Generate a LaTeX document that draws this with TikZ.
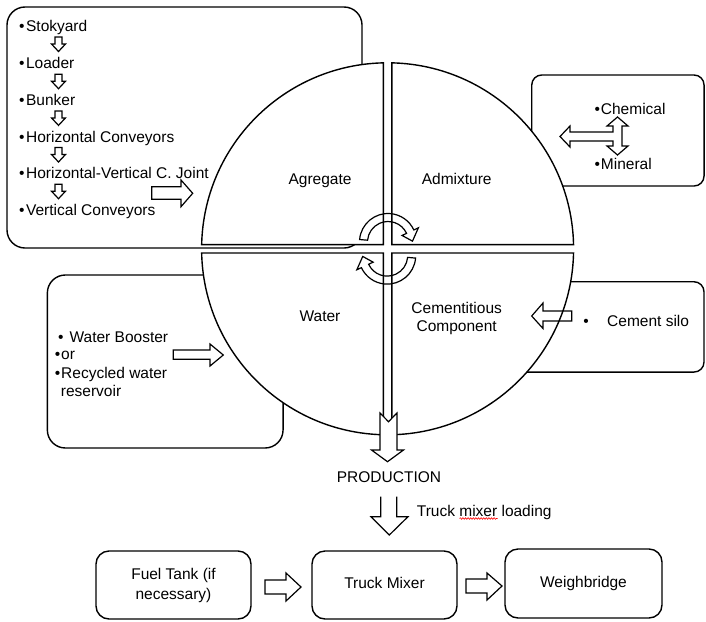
\documentclass[tikz,border=0pt]{standalone}
\usepackage{fontspec}
\setmainfont{Liberation Sans}
\usetikzlibrary{decorations.pathmorphing}
\begin{document}
\begin{tikzpicture}[x=1pt,y=-1pt,
  rbox/.style={draw, line width=1.4pt, fill=white, inner sep=0pt},
  quad/.style={draw, line width=1.4pt, fill=white},
  barrow/.style={draw, line width=1.2pt, line join=miter},
  wbarrow/.style={draw, line width=1.2pt, fill=white, line join=miter},
  lbl/.style={font=\fontsize{15.5}{18}\selectfont, inner sep=0pt, text height=11pt, text depth=0pt},
  sdown/.pic={\draw[line width=1.2pt, line join=miter] (-3.5,-7) -- (3.5,-7) -- (3.5,0) -- (7,0) -- (0,7.5) -- (-7,0) -- (-3.5,0) -- cycle;}
]
\fill[white] (0,0) rectangle (706,621);
\useasboundingbox (0,0) rectangle (706,621);

% background boxes
\node[rbox, rounded corners=18pt, minimum width=355pt, minimum height=241pt] (listbox) at (184.5,127.5) {};
\node[rbox, rounded corners=18pt, minimum width=235.7pt, minimum height=173pt] (waterbox) at (165.2,361.5) {};
\node[rbox, rounded corners=10pt, minimum width=172.3pt, minimum height=111pt] (admixbox) at (617.9,130.5) {};
\node[rbox, rounded corners=10pt, minimum width=204pt, minimum height=90.3pt] (silobox) at (602,326.9) {};

% quadrants
\path[quad] (383.4,244.6) -- (383.4,62.85) arc[start angle=268.706, end angle=181.294, radius=186] -- cycle;
\path[quad] (391.8,244.6) -- (391.8,62.85) arc[start angle=271.294, end angle=358.706, radius=186] -- cycle;
\path[quad] (391.8,253) -- (391.8,434.75) arc[start angle=88.706, end angle=1.294, radius=186] -- cycle;
\path[quad] (383.4,253) -- (383.4,434.75) arc[start angle=91.294, end angle=178.706, radius=186] -- cycle;

% quadrant labels
\node[lbl] (agg) at (320,179) {Agregate};
\node[lbl] (adm) at (456.7,179) {Admixture};
\node[lbl] (wat) at (320,316) {Water};
\node[lbl] (cem1) at (456.7,308) {Cementitious};
\node[lbl] (cem2) at (456.7,326) {Component};

% curved arrows in the centre
\draw[barrow] ([shift={(388,242)}]185:28.5) arc[start angle=185, end angle=335, radius=28.5]
  -- ([shift={(388,242)}]335:33.5) -- ([shift={(388,242)}]358:24.5) -- ([shift={(388,242)}]335:15.5)
  -- ([shift={(388,242)}]335:20.5) arc[start angle=335, end angle=185, radius=20.5] -- cycle;
\draw[barrow] ([shift={(387.2,255.6)}]5:28.5) arc[start angle=5, end angle=155, radius=28.5]
  -- ([shift={(387.2,255.6)}]155:33.5) -- ([shift={(387.2,255.6)}]178:24.5) -- ([shift={(387.2,255.6)}]155:15.5)
  -- ([shift={(387.2,255.6)}]155:20.5) arc[start angle=155, end angle=5, radius=20.5] -- cycle;

% list box content
\node[lbl, anchor=west] (i1) at (19,26) {•\hspace{1.5pt}Stokyard};
\node[lbl, anchor=west] (i2) at (19,63.3) {•\hspace{1.5pt}Loader};
\node[lbl, anchor=west] (i3) at (19,100) {•\hspace{1.5pt}Bunker};
\node[lbl, anchor=west] (i4) at (19,136.7) {•\hspace{1.5pt}Horizontal Conveyors};
\node[lbl, anchor=west] (i5) at (19,173.3) {•\hspace{1.5pt}Horizontal-Vertical C. Joint};
\node[lbl, anchor=west] (i6) at (19,210) {•\hspace{1.5pt}Vertical Conveyors};
\pic at (58.5,44) {sdown};
\pic at (58.5,81.2) {sdown};
\pic at (58.5,117.9) {sdown};
\pic at (58.5,154.5) {sdown};
\pic at (58.5,191.2) {sdown};
\draw[barrow] (151.7,186.7) -- (181,186.7) -- (181,180) -- (192.7,193.3) -- (181,206.7) -- (181,199.3) -- (151.7,199.3) -- cycle;

% water box content
\node[lbl, anchor=west] (w1) at (58,336.7) {•\hspace{6pt}Water Booster};
\node[lbl, anchor=west] (w2) at (54.6,354) {•\hspace{1pt}or};
\node[lbl, anchor=west] (w3) at (54.6,372.7) {•\hspace{1pt}Recycled water};
\node[lbl, anchor=west] (w4) at (60.7,390.7) {reservoir};
\draw[barrow] (173.3,350) -- (210,350) -- (210,344) -- (223.3,355) -- (210,366) -- (210,359.3) -- (173.3,359.3) -- cycle;

% admixture box content
\node[lbl, anchor=west] (chem) at (594.3,109) {•\hspace{1pt}Chemical};
\node[lbl, anchor=west] (mine) at (594.3,164) {•\hspace{1pt}Mineral};
\draw[barrow] (617.5,117) -- (628,126) -- (622,126) -- (622,146) -- (628,146) -- (617.5,155) -- (607,146) -- (613,146)
  -- (613,141) -- (570,141) -- (570,147) -- (560,136.5) -- (570,126) -- (570,132) -- (613,132) -- (613,126) -- (607,126) -- cycle;

% cement silo content
\node[lbl] (sb) at (586,321) {•};
\node[lbl, anchor=west] (silo) at (607,321) {Cement silo};
\draw[barrow] (571.7,311) -- (543,311) -- (543,303) -- (531.7,316) -- (543,328.5) -- (543,321) -- (571.7,321) -- cycle;

% production arrow
\draw[wbarrow] (380,413) -- (388.5,421.7) -- (397,413) -- (397,450) -- (403.5,450) -- (387.5,461.7) -- (371.5,450) -- (380,450) -- cycle;
\node[lbl] (prod) at (389,477.3) {PRODUCTION};

% truck mixer loading arrow
\draw[barrow] (380.7,496.7) -- (380.7,516.7) -- (371,516.7) -- (389.3,535) -- (408,516.7) -- (396.7,516.7) -- (396.7,496.7);
\node[lbl, anchor=west] (tml) at (416.7,510.7) {Truck mixer loading};
\draw[red, line width=0.6pt, decorate, decoration={snake, amplitude=0.8pt, segment length=2.6pt}] (459.5,518.5) -- (497.5,518.5);

% bottom row
\node[rbox, rounded corners=13pt, minimum width=155pt, minimum height=68pt] (fuel) at (173.5,585) {};
\node[rbox, rounded corners=13pt, minimum width=145pt, minimum height=68pt] (truck) at (384.5,585) {};
\node[rbox, rounded corners=13pt, minimum width=157pt, minimum height=69pt] (weigh) at (583.5,583.5) {};
\node[lbl] (f1) at (173.5,574) {Fuel Tank (if};
\node[lbl] (f2) at (173.5,594) {necessary)};
\node[lbl] (tm) at (384.5,583) {Truck Mixer};
\node[lbl] (wb) at (583.5,582) {Weighbridge};
\draw[barrow] (265,580) -- (286,580) -- (286,573) -- (301,587) -- (286,601) -- (286,594) -- (265,594) -- cycle;
\draw[barrow] (466,579) -- (487,579) -- (487,573) -- (502,586) -- (487,600) -- (487,593) -- (466,593) -- cycle;
\end{tikzpicture}
\end{document}
